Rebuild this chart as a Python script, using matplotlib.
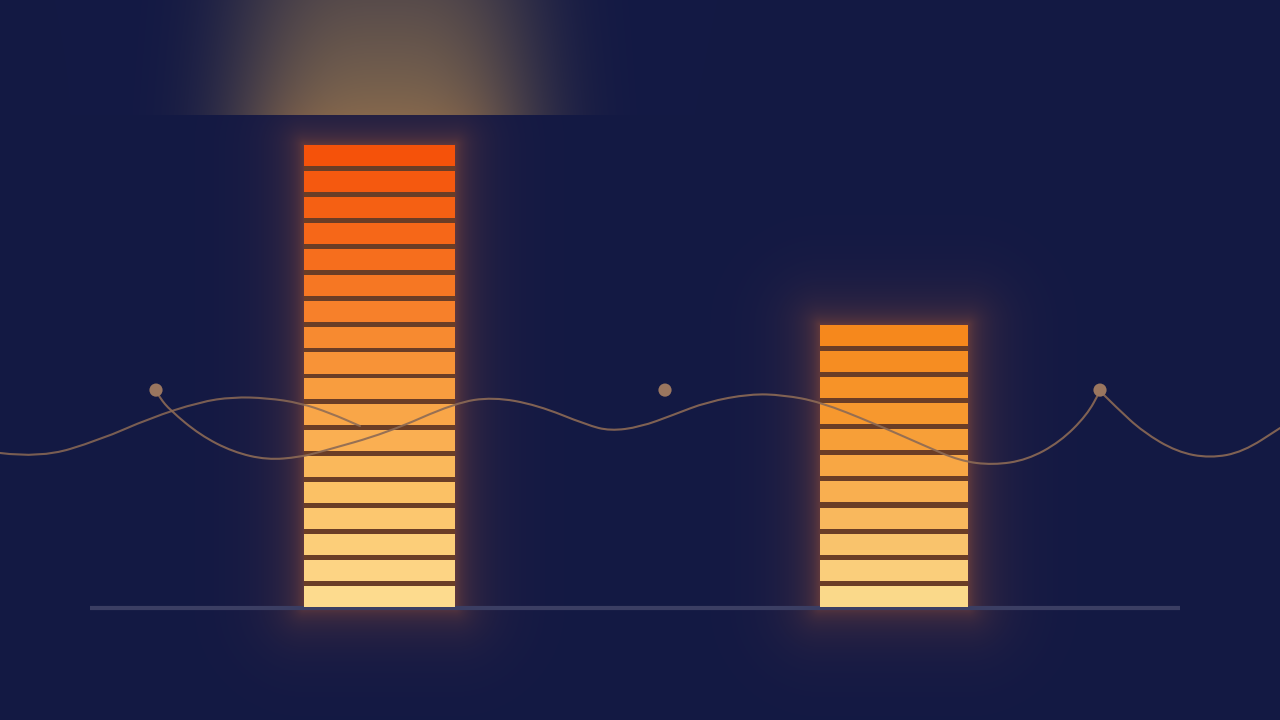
import numpy as np
import matplotlib
matplotlib.use("Agg")
import matplotlib.pyplot as plt
from matplotlib.path import Path
from matplotlib.patches import PathPatch
from matplotlib.colors import LinearSegmentedColormap

# stacked block bars: centre, width, number of blocks
bar_x = [379.5, 894.0]
bar_width = [151, 148]
bar_blocks = [18, 11]

# left wave (fades inside the first bar)
wave_x = [0, 40, 100, 150, 200, 233, 267, 300, 330, 360]
wave_y = [6.00, 5.80, 6.51, 7.36, 7.99, 8.18, 8.14, 7.95, 7.56, 7.05]

# main wave, from the first dot to the cusp at the third dot
line_x = [156, 160, 170, 200, 233, 267, 300, 320, 387, 455, 493, 537, 587, 610,
          640, 673, 707, 750, 783, 820, 873, 923, 960, 993, 1027, 1060, 1087, 1100]
line_y = [8.41, 8.14, 7.67, 6.70, 6.04, 5.73, 5.84, 6.04, 6.78, 7.95, 8.18, 7.87, 7.09, 6.86,
          7.01, 7.48, 7.99, 8.30, 8.26, 7.99, 7.17, 6.31, 5.69, 5.53, 5.73, 6.43, 7.48, 8.41]

# after the cusp
tail_x = [1100, 1117, 1143, 1177, 1210, 1243, 1280]
tail_y = [8.41, 7.75, 6.82, 6.04, 5.80, 6.04, 6.97]

dot_x = [156, 665, 1100]
dot_y = [8.45, 8.45, 8.45]

W, H = 1280, 720
BASE_PX = 607        # baseline row in the picture
PITCH = 25.67        # pixels per block
SEG_H = 0.82         # block height, rest is the gap
y_lo = -(H - BASE_PX) / PITCH
y_hi = BASE_PX / PITCH

BG = np.array([19, 25, 68]) / 255
bar_cmaps = [
    LinearSegmentedColormap.from_list(
        "tall", ["#fddb8e", "#fbbf62", "#f8983a", "#f6701e", "#f5520a"]),
    LinearSegmentedColormap.from_list(
        "short", ["#fad98a", "#f9b458", "#f79a30", "#f6881c"]),
]


def smooth_path(xs, ys):
    pts = np.column_stack([xs, ys]).astype(float)
    verts = [pts[0]]
    codes = [Path.MOVETO]
    for i in range(1, len(pts) - 1):
        verts += [pts[i], (pts[i] + pts[i + 1]) / 2]
        codes += [Path.CURVE3, Path.CURVE3]
    verts.append(pts[-1])
    codes.append(Path.LINETO)
    return Path(verts, codes)


# --- background: spotlight + glow around the bars ---
yy, xx = np.mgrid[0:H, 0:W] + 0.5
img = np.ones((H, W, 3)) * BG

spot = np.array([190, 150, 85]) / 255
a = 0.62 * np.exp(-(np.abs(xx - 385) / 150) ** 3) * (0.65 + 0.35 * yy / 115) * (yy < 115)
img = img * (1 - a[..., None]) + spot * a[..., None]

glow = np.array([210, 105, 50]) / 255
for x, w, n in zip(bar_x, bar_width, bar_blocks):
    left, right = x - w / 2, x + w / 2
    top = BASE_PX - n * PITCH
    dx = np.maximum(np.maximum(left - xx, xx - right), 0)
    dy = np.maximum(np.maximum(top - yy, yy - BASE_PX), 0)
    d = np.hypot(dx, dy)
    a = 0.26 * np.exp(-d / 28) + 0.14 * np.exp(-d / 7)
    img = img * (1 - a[..., None]) + glow * a[..., None]

fig = plt.figure(figsize=(12.8, 7.2), dpi=100)
fig.patch.set_facecolor(BG)
ax = fig.add_axes([0, 0, 1, 1])
ax.imshow(img, extent=[0, W, y_lo, y_hi], aspect="auto", zorder=0, interpolation="bilinear")

# baseline
ax.plot([90, 1180], [-0.03, -0.03], color="#3b3e63", lw=3, solid_capstyle="butt", zorder=1)

# bars: dark backing, then the blocks
ax.bar(bar_x, bar_blocks, width=bar_width, color="#6a3d26", zorder=2)
for x, w, n, cm in zip(bar_x, bar_width, bar_blocks, bar_cmaps):
    gap = n * (1 - SEG_H) / (n - 1)
    for i in range(n):
        ax.bar(x, SEG_H, width=w, bottom=i * (SEG_H + gap),
               color=cm(i / (n - 1)), zorder=3, linewidth=0)

# waves and dots
for xs, ys, alpha in [(wave_x, wave_y, 0.85), (line_x, line_y, 0.9), (tail_x, tail_y, 0.9)]:
    ax.add_patch(PathPatch(smooth_path(xs, ys), fill=False, edgecolor="#8c6a55",
                           lw=1.5, alpha=alpha, zorder=4, capstyle="round"))
ax.scatter(dot_x, dot_y, s=90, color="#9a765f", edgecolors="none", zorder=5)

ax.set_xlim(0, W)
ax.set_ylim(y_lo, y_hi)
ax.axis("off")
fig.savefig("out.png", dpi=100, facecolor=fig.get_facecolor())
